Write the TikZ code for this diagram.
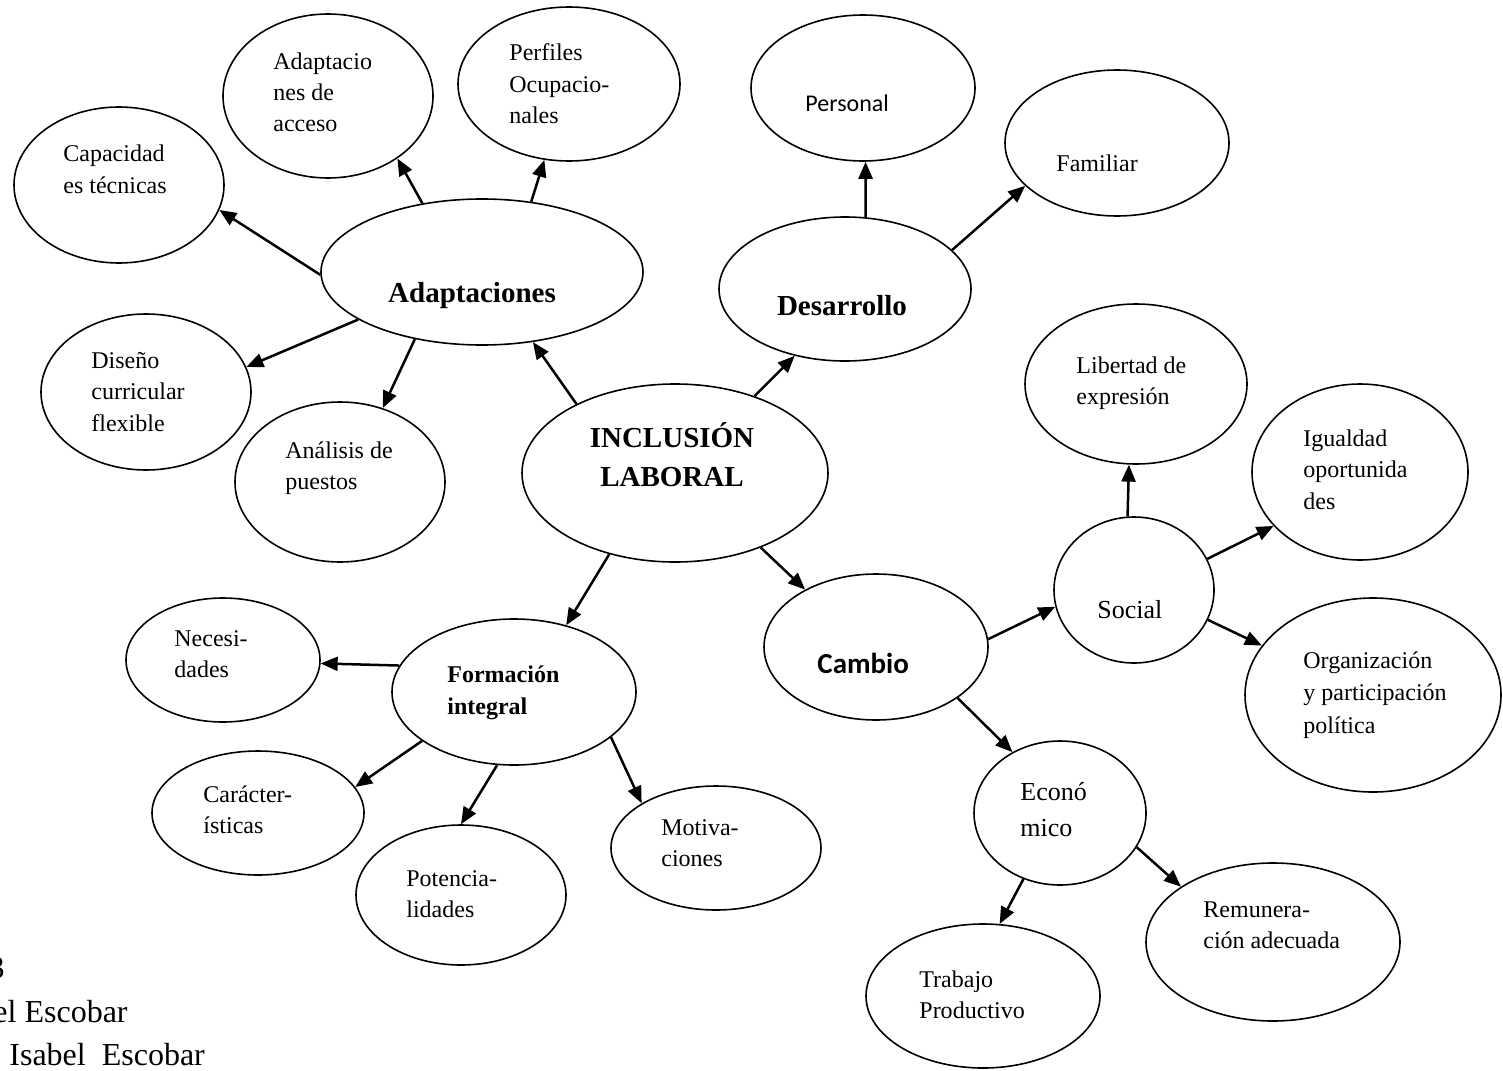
\documentclass[tikz,border=0pt]{standalone}
\usepackage{fontspec}
\setmainfont{Liberation Serif}
\newfontfamily\calibri{Carlito}
\usetikzlibrary{shapes.geometric,arrows.meta}
\newcommand{\lineslft}[1]{\begin{tabular}[t]{@{}l@{}}#1\end{tabular}}
\newcommand{\linesctr}[1]{\begin{tabular}[t]{@{}c@{}}#1\end{tabular}}
\newcommand{\bubble}[5]{\node[bub,minimum width=#4pt,minimum height=#5pt] (#1) at (#2,#3) {};}
\begin{document}
\begin{tikzpicture}[x=0.5pt,y=-0.5pt,
  bub/.style={ellipse,draw,line width=0.8pt,inner sep=0pt},
  txt/.style={inner sep=0pt,anchor=base west,font=\fontsize{12}{15.75}\selectfont},
  hd/.style={inner sep=0pt,anchor=base,font=\fontsize{14.5}{19.5}\selectfont\bfseries},
  foot/.style={inner sep=0pt,font=\fontsize{16}{20}\selectfont},
  arr/.style={-{Triangle[length=8.5pt,width=7pt]},line width=1.25pt}]
\useasboundingbox (0,0) rectangle (1503,1070);
% ellipses
\bubble{cap}{119}{185}{105}{78}
\bubble{acc}{328}{96}{105}{82}
\bubble{per}{569}{84}{111}{77}
\bubble{adap}{482}{272}{161}{73}
\bubble{dis}{146}{392}{105}{78}
\bubble{ana}{340}{482}{105}{80}
\bubble{inc}{675}{473}{153}{89}
\bubble{pers}{863}{88}{112}{73}
\bubble{fam}{1117}{143}{112}{73}
\bubble{des}{845}{289}{126}{72}
\bubble{lib}{1136}{384}{111}{80}
\bubble{igu}{1360}{472}{108}{88}
\bubble{soc}{1134}{590}{80}{73}
\bubble{cam}{876}{647}{112}{73}
\bubble{org}{1373}{695}{128}{97}
\bubble{eco}{1060}{813}{86}{72}
\bubble{rem}{1273}{942}{127}{79}
\bubble{tra}{983}{996}{117}{72}
\bubble{nec}{223}{660}{97}{62}
\bubble{for}{514}{692}{122}{73}
\bubble{car}{258}{813}{106}{62}
\bubble{pot}{461}{895}{105}{70}
\bubble{mot}{716}{848}{105}{62}
% texts
\node[txt] (tcap) at (63,162) {\lineslft{Capacidad\\es técnicas}};
\node[txt] (tacc) at (273,69) {\lineslft{Adaptacio\\nes de\\acceso}};
\node[txt] (tper) at (509,61) {\lineslft{Perfiles\\Ocupacio-\\nales}};
\node[hd] (tadap) at (472,302) {Adaptaciones};
\node[txt] (tdis) at (91,368) {\lineslft{Diseño\\curricular\\flexible}};
\node[txt] (tana) at (285,458) {\lineslft{Análisis de\\puestos}};
\node[hd] (tinc) at (672,447) {\linesctr{INCLUSIÓN\\LABORAL}};
\node[txt,font=\calibri\fontsize{12}{15}\selectfont] (tpers) at (805,112) {Personal};
\node[txt] (tfam) at (1056,171) {Familiar};
\node[hd] (tdes) at (842,315) {Desarrollo};
\node[txt] (tlib) at (1076,373) {\lineslft{Libertad de\\expresión}};
\node[txt] (tigu) at (1303,446) {\lineslft{Igualdad\\oportunida\\des}};
\node[txt,font=\fontsize{13}{16}\selectfont] (tsoc) at (1097,618) {Social};
\node[txt,font=\calibri\bfseries\fontsize{14.5}{18}\selectfont] (tcam) at (817,673) {Cambio};
\node[txt,font=\fontsize{12}{16.25}\selectfont] (torg) at (1303,668) {\lineslft{Organización\\y participación\\política}};
\node[txt,font=\fontsize{13}{18}\selectfont] (teco) at (1020,800) {\lineslft{Econó\\mico}};
\node[txt] (trem) at (1203,917) {\lineslft{Remunera-\\ción adecuada}};
\node[txt] (ttra) at (919,987) {\lineslft{Trabajo\\Productivo}};
\node[txt] (tnec) at (174,646) {\lineslft{Necesi-\\dades}};
\node[txt,font=\fontsize{12}{16}\selectfont\bfseries] (tfor) at (447,682) {\lineslft{Formación\\integral}};
\node[txt] (tcar) at (203,802) {\lineslft{Carácter-\\ísticas}};
\node[txt] (tpot) at (406,886) {\lineslft{Potencia-\\lidades}};
\node[txt] (tmot) at (661,835) {\lineslft{Motiva-\\ciones}};
% footer fragments (cut at the left edge, as in the reference)
\node[foot,anchor=base east] (f1) at (5,978) {3};
\node[foot,anchor=base east] (f2) at (128,1022) {el Escobar};
\node[foot,anchor=base west] (f3) at (9,1065) {Isabel\ \ Escobar};
% arrows
\draw[arr] (adap.181) -- (cap.346);
\draw[arr] (adap.131) -- (acc.318);
\draw[arr] (adap.55) -- (per.252);
\draw[arr] (adap.201) -- (dis.14);
\draw[arr] (adap.225) -- (ana.60);
\draw[arr] (inc.145) -- (adap.306);
\draw[arr] (inc.44) -- (des.233);
\draw[arr] (des.74) -- (pers.272);
\draw[arr] (des.20) -- (fam.205);
\draw[arr] (inc.231) -- (for.52);
\draw[arr] (inc.319) -- (cam.141);
\draw[arr] (for.167) -- (nec.358);
\draw[arr] (for.208) -- (car.15);
\draw[arr] (for.257) -- (pot.90);
\draw[arr] (for.335) -- (mot.149);
\draw[arr] (cam.4) -- (soc.192);
\draw[arr] (cam.328) -- (eco.128);
\draw[arr] (soc.95) -- (lib.265);
\draw[arr] (soc.23) -- (igu.212);
\draw[arr] (soc.338) -- (org.156);
\draw[arr] (eco.241) -- (tra.77);
\draw[arr] (eco.336) -- (rem.149);
\end{tikzpicture}
\end{document}
